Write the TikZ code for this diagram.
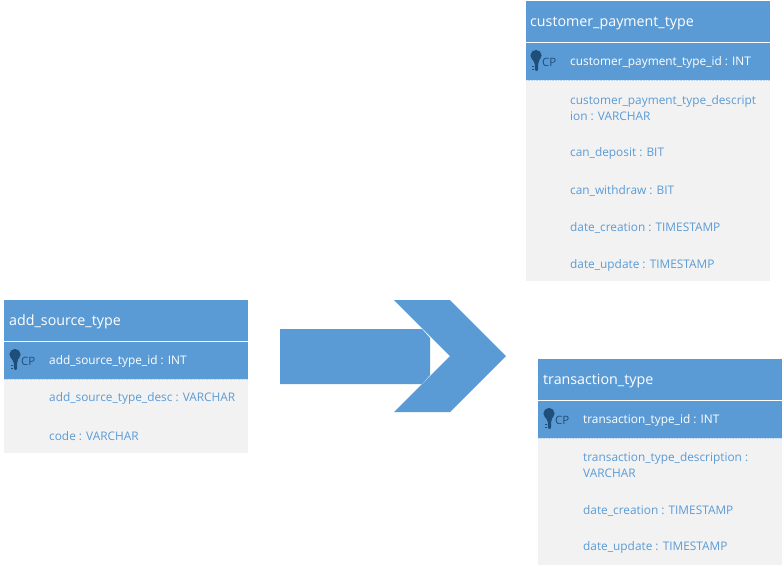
\documentclass[tikz,border=0pt]{standalone}
\usepackage{fontspec}
\setmainfont{Open Sans}
\definecolor{blu}{HTML}{5B9BD5}
\definecolor{gry}{HTML}{F2F2F2}
\definecolor{drk}{HTML}{1F4E79}
\newcommand{\keyicon}[1]{%
  \fill[drk] (#1)++(0,-5.5) circle (5.6);
  \fill[drk] (#1)++(-3.5,-2) -- ++(7,0) -- ++(-1.3,5) -- ++(0,5.5) -- ++(-1.2,1.3) -- ++(-1,0) -- ++(-1.2,-1.3) -- ++(0,-5.5) -- cycle;
  \fill[drk] (#1)++(-3.6,4.5) rectangle ++(2,1.8);
  \fill[drk] (#1)++(-3.6,7.5) rectangle ++(2,1.8);
}
\tikzset{
  x=1pt,y=-1pt,
  band/.style={fill=blu,draw=none},
  bodybox/.style={fill=gry,draw=none},
  title/.style={anchor=west,inner sep=0,text=white,font=\fontsize{14.25}{16}\selectfont},
  colw/.style={anchor=west,inner sep=0,text=white,font=\fontsize{11.85}{14.6}\selectfont},
  colb/.style={anchor=west,inner sep=0,text=blu,font=\fontsize{11.85}{16}\selectfont,align=left},
  cpl/.style={anchor=west,inner sep=0,text=drk,font=\fontsize{11.5}{13}\selectfont},
  dot/.style={white!60!blu,line width=0.6pt,densely dotted},
}
\begin{document}
\begin{tikzpicture}
\useasboundingbox (0,0) rectangle (784,566);
\fill[white] (0,0) rectangle (784,566);
% arrow
\fill[blu] (280,329) -- (422,329) -- (430,338) -- (430,375) -- (422,384) -- (280,384) -- cycle;
\fill[blu] (394,300) -- (450,300) -- (506,356) -- (450,412) -- (394,412) -- (450,356) -- cycle;
% add_source_type
\fill[bodybox] (4,379) rectangle (248,453);
\fill[band] (4,300) rectangle (248,341);
\fill[band] (4,342) rectangle (248,379);
\draw[dot] (4,379.3) -- (248,379.3);
\keyicon{15,360}
\node[title] (a0) at (9,321.5) {add\_source\_type};
\node[cpl] (a1) at (21,361) {CP};
\node[colw] (a2) at (49,361.5) {add\_source\_type\_id : INT};
\node[colb] (a3) at (49,398.5) {add\_source\_type\_desc : VARCHAR};
\node[colb] (a4) at (49,436.5) {code : VARCHAR};
% customer_payment_type
\fill[bodybox] (526,80) rectangle (770,281);
\fill[band] (526,1) rectangle (770,42);
\fill[band] (526,43) rectangle (770,80);
\draw[dot] (526,80.3) -- (770,80.3);
\keyicon{536,61}
\node[title] (b0) at (530,23.5) {customer\_payment\_type};
\node[cpl] (b1) at (542,62) {CP};
\node[colw] (b2) at (570,62.5) {customer\_payment\_type\_id : INT};
\node[colb] (b3) at (570,108) {customer\_payment\_type\_descript\\ion : VARCHAR};
\node[colb] (b4) at (570,153.5) {can\_deposit : BIT};
\node[colb] (b5) at (570,190.5) {can\_withdraw : BIT};
\node[colb] (b6) at (570,227.5) {date\_creation : TIMESTAMP};
\node[colb] (b7) at (570,265.5) {date\_update : TIMESTAMP};
% transaction_type
\fill[bodybox] (538,438) rectangle (782,565);
\fill[band] (538,359) rectangle (782,400);
\fill[band] (538,401) rectangle (782,438);
\draw[dot] (538,438.3) -- (782,438.3);
\keyicon{549,419}
\node[title] (c0) at (543,381) {transaction\_type};
\node[cpl] (c1) at (555,420) {CP};
\node[colw] (c2) at (583,420.5) {transaction\_type\_id : INT};
\node[colb] (c3) at (583,465) {transaction\_type\_description :\\VARCHAR};
\node[colb] (c4) at (583,510.5) {date\_creation : TIMESTAMP};
\node[colb] (c5) at (583,547.5) {date\_update : TIMESTAMP};
\end{tikzpicture}
\end{document}
